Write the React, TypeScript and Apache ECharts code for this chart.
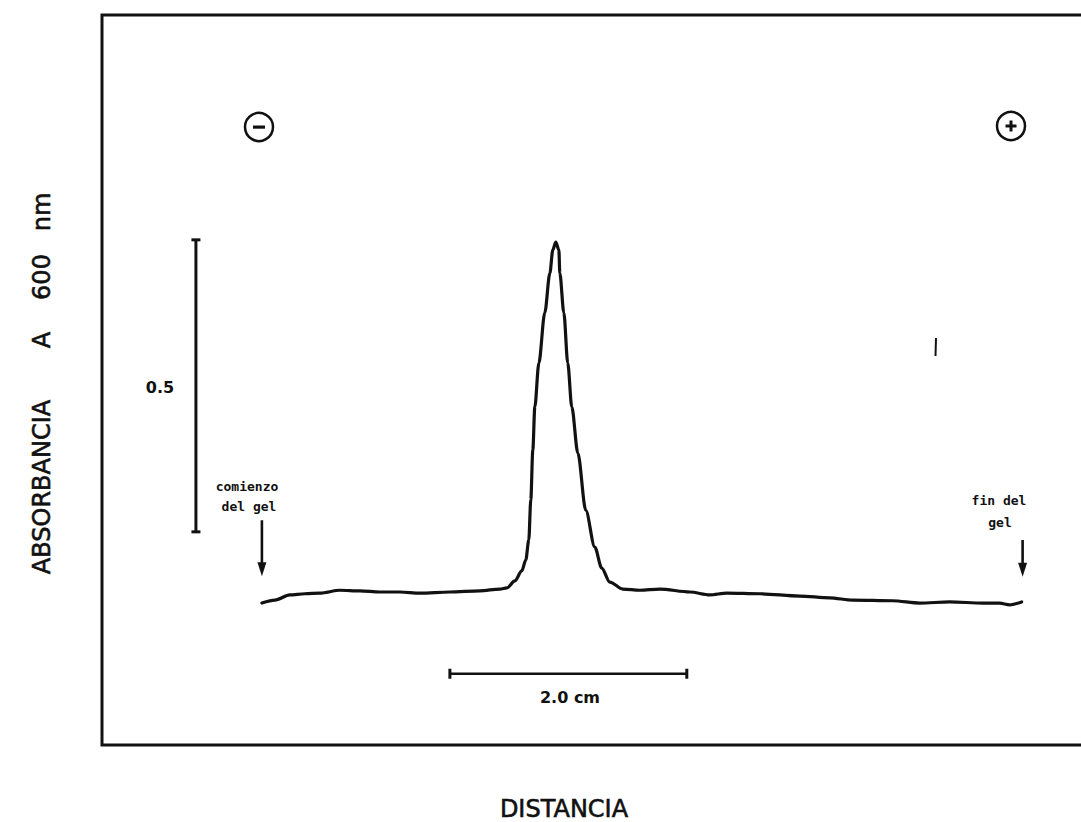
import React, { useEffect, useRef } from "react";
import * as echarts from "echarts";

// Densitometric trace: distance along the gel (cm) vs absorbance at 600 nm
const distanceCm = [
  1.35, 1.46, 1.586, 1.713, 1.84, 2.008, 2.177, 2.346, 2.515, 2.684, 2.937, 3.19, 3.359, 3.418,
  3.485, 3.544, 3.578, 3.603, 3.62, 3.637, 3.654, 3.688, 3.738, 3.781, 3.806, 3.831,
  3.857, 3.865, 3.899, 3.932, 3.966, 4.017, 4.084, 4.16, 4.219, 4.287, 4.397,
  4.54, 4.709, 4.962, 5.131, 5.274, 5.553, 5.89, 6.143, 6.338, 6.675, 6.903, 7.156, 7.435,
  7.578, 7.662, 7.764,
];
const absorbance = [
  0.243, 0.248, 0.257, 0.259, 0.26, 0.265, 0.264, 0.262, 0.262, 0.26, 0.262, 0.264, 0.267, 0.269,
  0.281, 0.298, 0.317, 0.351, 0.42, 0.505, 0.579, 0.654, 0.74, 0.808, 0.848, 0.861,
  0.848, 0.808, 0.74, 0.654, 0.579, 0.5, 0.402, 0.339, 0.303, 0.279, 0.267,
  0.265, 0.267, 0.262, 0.257, 0.26, 0.259, 0.255, 0.252, 0.248, 0.247, 0.243, 0.245, 0.243,
  0.243, 0.24, 0.245,
];

// Scale bars
const absBarX = [0.793, 0.793];
const absBarY = [0.365, 0.865];
const cmBarX = [2.937, 4.937];
const cmBarY = [0.122, 0.122];

// Start / end of gel arrows
const startArrowX = [1.35, 1.35];
const startArrowY = [0.385, 0.301];
const endArrowX = [7.772, 7.772];
const endArrowY = [0.351, 0.3];

// Texts
const yTitleParts = ["ABSORBANCIA", "A", "600", "nm"];
const xTitle = "DISTANCIA";
const absBarLabel = "0.5";
const cmBarLabel = "2.0 cm";
const startLabel = ["comienzo", "del gel"];
const endLabel = ["fin del", "gel"];

const zip = (xs: number[], ys: number[]) => xs.map((x, i) => [x, ys[i]]);

export default function App() {
  const ref = useRef<HTMLDivElement>(null);
  useEffect(() => {
    if (!ref.current) return;
    const chart = echarts.init(ref.current, undefined, { renderer: "svg" });
    const ink = "#111";
    const arrowData = (xs: number[], ys: number[]) => [
      { value: [xs[0], ys[0]], symbol: "none" },
      { value: [xs[1], ys[1]], symbol: "triangle", symbolRotate: 180, symbolSize: [9, 14] },
    ];
    const titleStyle = {
      font: "24px 'DejaVu Sans', sans-serif",
      fill: ink,
      stroke: ink,
      lineWidth: 0.6,
      align: "center",
      verticalAlign: "middle",
    };
    const smallFont = "bold 13px 'DejaVu Sans Mono', monospace";
    chart.setOption({
      animation: false,
      backgroundColor: "#fff",
      grid: {
        left: 102,
        top: 15,
        width: 995,
        height: 730,
        show: true,
        borderColor: ink,
        borderWidth: 3,
        backgroundColor: "transparent",
      },
      xAxis: { type: "value", min: 0, max: 8.4, show: false },
      yAxis: { type: "value", min: 0, max: 1.25, show: false },
      series: [
        {
          type: "line",
          data: zip(distanceCm, absorbance),
          smooth: 0.3,
          smoothMonotone: "x",
          symbol: "none",
          lineStyle: { color: ink, width: 3.2, cap: "round", join: "round" },
        },
        {
          type: "line",
          data: zip(absBarX, absBarY),
          symbol: "rect",
          symbolSize: [9, 3],
          itemStyle: { color: ink },
          lineStyle: { color: ink, width: 3 },
        },
        {
          type: "line",
          data: zip(cmBarX, cmBarY),
          symbol: "rect",
          symbolSize: [3, 10],
          itemStyle: { color: ink },
          lineStyle: { color: ink, width: 2.6 },
        },
        {
          type: "line",
          data: arrowData(startArrowX, startArrowY),
          itemStyle: { color: ink },
          lineStyle: { color: ink, width: 2.6 },
        },
        {
          type: "line",
          data: arrowData(endArrowX, endArrowY),
          itemStyle: { color: ink },
          lineStyle: { color: ink, width: 2.6 },
        },
      ],
      graphic: [
        // y-axis title (rotated)
        { type: "text", x: 42, y: 487, rotation: Math.PI / 2, style: { ...titleStyle, text: yTitleParts[0] } },
        { type: "text", x: 42, y: 340, rotation: Math.PI / 2, style: { ...titleStyle, text: yTitleParts[1] } },
        { type: "text", x: 42, y: 277, rotation: Math.PI / 2, style: { ...titleStyle, text: yTitleParts[2] } },
        { type: "text", x: 42, y: 212, rotation: Math.PI / 2, style: { ...titleStyle, text: yTitleParts[3] } },
        // x-axis title
        { type: "text", x: 564, y: 809, style: { ...titleStyle, text: xTitle } },
        // scale labels
        { type: "text", x: 160, y: 387, style: { text: absBarLabel, font: "bold 16px 'DejaVu Sans', sans-serif", fill: ink, align: "center", verticalAlign: "middle" } },
        { type: "text", x: 570, y: 697, style: { text: cmBarLabel, font: "bold 16px 'DejaVu Sans', sans-serif", fill: ink, align: "center", verticalAlign: "middle" } },
        // gel start / end labels
        { type: "text", x: 247, y: 486, style: { text: startLabel[0], font: smallFont, fill: ink, align: "center", verticalAlign: "middle" } },
        { type: "text", x: 249, y: 506, style: { text: startLabel[1], font: smallFont, fill: ink, align: "center", verticalAlign: "middle" } },
        { type: "text", x: 999, y: 500, style: { text: endLabel[0], font: smallFont, fill: ink, align: "center", verticalAlign: "middle" } },
        { type: "text", x: 1000, y: 522, style: { text: endLabel[1], font: smallFont, fill: ink, align: "center", verticalAlign: "middle" } },
        // electrode signs
        { type: "circle", shape: { cx: 259, cy: 127, r: 14 }, style: { fill: "none", stroke: ink, lineWidth: 2.5 } },
        { type: "rect", shape: { x: 253, y: 125.5, width: 12, height: 3.2 }, style: { fill: ink } },
        { type: "circle", shape: { cx: 1011, cy: 126, r: 14 }, style: { fill: "none", stroke: ink, lineWidth: 2.5 } },
        { type: "rect", shape: { x: 1005.5, y: 124.5, width: 11, height: 3 }, style: { fill: ink } },
        { type: "rect", shape: { x: 1009.5, y: 120.5, width: 3, height: 11 }, style: { fill: ink } },
        // stray pen mark
        { type: "line", shape: { x1: 936, y1: 338, x2: 935.5, y2: 356 }, style: { stroke: ink, lineWidth: 2 } },
      ],
    });
    return () => chart.dispose();
  }, []);
  return (
    <div
      style={{
        position: "absolute",
        left: 0,
        top: 0,
        width: 1081,
        height: 822,
        overflow: "hidden",
        background: "#fff",
      }}
    >
      <div ref={ref} style={{ width: 1140, height: 822 }} />
    </div>
  );
}
